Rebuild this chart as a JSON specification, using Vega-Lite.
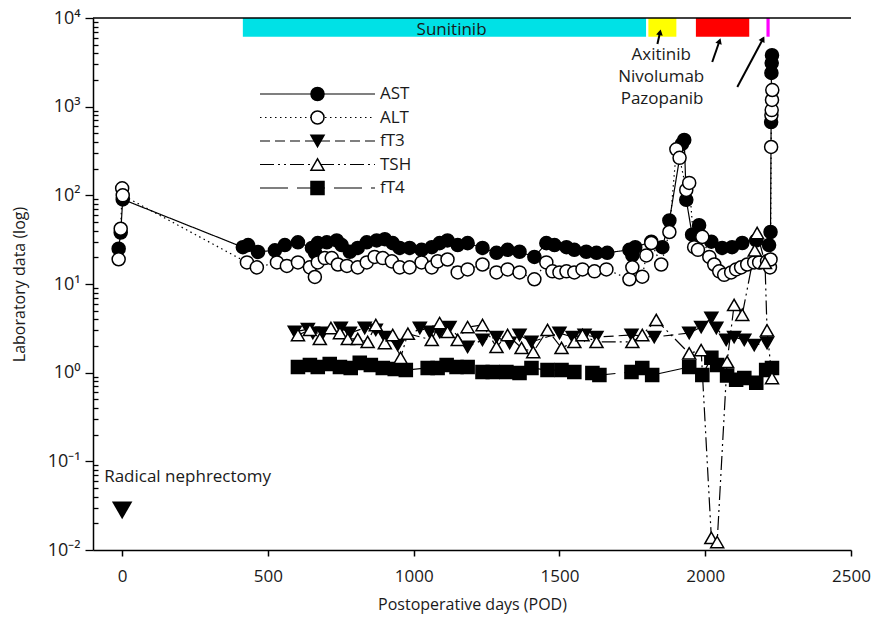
{
  "$schema": "https://vega.github.io/schema/vega-lite/v6.json",
  "width": 758,
  "height": 532,
  "autosize": "none",
  "padding": {"left": 93, "top": 18, "right": 21, "bottom": 72},
  "config": {
    "font": "Open Sans",
    "view": {"stroke": null},
    "axis": {"domainColor": "black", "domainWidth": 1.5, "tickColor": "black", "labelColor": "#1a1a1a", "titleColor": "#1a1a1a", "labelFontSize": 17, "titleFontSize": 16, "titleFontWeight": "normal", "grid": false},
    "legend": {"labelFont": "Open Sans", "labelColor": "#1a1a1a"}
  },
  "datasets": {
    "lab": [
      {"series":"AST","day":-12,"value":25},{"series":"AST","day":-5,"value":38},{"series":"AST","day":2,"value":90},{"series":"AST","day":414,"value":26},{"series":"AST","day":432,"value":27.5},{"series":"AST","day":466,"value":23},{"series":"AST","day":524,"value":24},{"series":"AST","day":558,"value":27.5},{"series":"AST","day":603,"value":29.5},{"series":"AST","day":651,"value":25.5},{"series":"AST","day":662,"value":22.5},{"series":"AST","day":671,"value":28.9},{"series":"AST","day":702,"value":29.5},{"series":"AST","day":736,"value":31},{"series":"AST","day":753,"value":27.5},{"series":"AST","day":781,"value":23.1},{"series":"AST","day":808,"value":25.5},{"series":"AST","day":839,"value":29.5},{"series":"AST","day":873,"value":31},{"series":"AST","day":901,"value":32},{"series":"AST","day":928,"value":28.9},{"series":"AST","day":952,"value":25.5},{"series":"AST","day":986,"value":25.5},{"series":"AST","day":1027,"value":24.3},{"series":"AST","day":1062,"value":26},{"series":"AST","day":1089,"value":28.9},{"series":"AST","day":1116,"value":31},{"series":"AST","day":1151,"value":27.5},{"series":"AST","day":1185,"value":28.9},{"series":"AST","day":1236,"value":25.5},{"series":"AST","day":1284,"value":22.5},{"series":"AST","day":1322,"value":24.3},{"series":"AST","day":1363,"value":23.1},{"series":"AST","day":1414,"value":20.2},{"series":"AST","day":1455,"value":28.9},{"series":"AST","day":1483,"value":27.5},{"series":"AST","day":1524,"value":26},{"series":"AST","day":1551,"value":24.3},{"series":"AST","day":1592,"value":23.1},{"series":"AST","day":1627,"value":22.5},{"series":"AST","day":1664,"value":22.5},{"series":"AST","day":1740,"value":24.3},{"series":"AST","day":1750,"value":21},{"series":"AST","day":1760,"value":26},{"series":"AST","day":1815,"value":30},{"series":"AST","day":1853,"value":26},{"series":"AST","day":1877,"value":52},{"series":"AST","day":1920,"value":380},{"series":"AST","day":1928,"value":421},{"series":"AST","day":1935,"value":89},{"series":"AST","day":1955,"value":36},{"series":"AST","day":1979,"value":46},{"series":"AST","day":2021,"value":30},{"series":"AST","day":2058,"value":25.5},{"series":"AST","day":2092,"value":26},{"series":"AST","day":2127,"value":29},{"series":"AST","day":2175,"value":31},{"series":"AST","day":2219,"value":27.5},{"series":"AST","day":2224,"value":38.6},{"series":"AST","day":2226,"value":670},{"series":"AST","day":2227,"value":2400},{"series":"AST","day":2228,"value":3100},{"series":"AST","day":2229,"value":3800},
      {"series":"ALT","day":-12,"value":19},{"series":"ALT","day":-5,"value":42},{"series":"ALT","day":0,"value":120},{"series":"ALT","day":2,"value":100},{"series":"ALT","day":428,"value":17.5},{"series":"ALT","day":462,"value":15.4},{"series":"ALT","day":531,"value":17.5},{"series":"ALT","day":565,"value":16},{"series":"ALT","day":603,"value":17.5},{"series":"ALT","day":644,"value":15.4},{"series":"ALT","day":661,"value":12},{"series":"ALT","day":671,"value":17.5},{"series":"ALT","day":695,"value":19.6},{"series":"ALT","day":719,"value":19.6},{"series":"ALT","day":740,"value":16.6},{"series":"ALT","day":771,"value":16},{"series":"ALT","day":808,"value":15.4},{"series":"ALT","day":839,"value":17.5},{"series":"ALT","day":866,"value":20.2},{"series":"ALT","day":894,"value":19.6},{"series":"ALT","day":925,"value":18},{"series":"ALT","day":952,"value":15.4},{"series":"ALT","day":986,"value":15.4},{"series":"ALT","day":1027,"value":17.5},{"series":"ALT","day":1062,"value":15.4},{"series":"ALT","day":1082,"value":18},{"series":"ALT","day":1116,"value":18.9},{"series":"ALT","day":1151,"value":13.5},{"series":"ALT","day":1185,"value":14.6},{"series":"ALT","day":1236,"value":16.6},{"series":"ALT","day":1284,"value":13.5},{"series":"ALT","day":1322,"value":14.6},{"series":"ALT","day":1363,"value":13.5},{"series":"ALT","day":1414,"value":11.3},{"series":"ALT","day":1455,"value":17.5},{"series":"ALT","day":1476,"value":13.9},{"series":"ALT","day":1500,"value":13.5},{"series":"ALT","day":1524,"value":13.9},{"series":"ALT","day":1551,"value":13.5},{"series":"ALT","day":1579,"value":14.6},{"series":"ALT","day":1620,"value":13.9},{"series":"ALT","day":1661,"value":14.6},{"series":"ALT","day":1740,"value":11.3},{"series":"ALT","day":1750,"value":15.4},{"series":"ALT","day":1784,"value":12.1},{"series":"ALT","day":1798,"value":21},{"series":"ALT","day":1815,"value":29},{"series":"ALT","day":1849,"value":16.6},{"series":"ALT","day":1877,"value":38.6},{"series":"ALT","day":1901,"value":330},{"series":"ALT","day":1912,"value":265},{"series":"ALT","day":1935,"value":115},{"series":"ALT","day":1945,"value":138},{"series":"ALT","day":1962,"value":26},{"series":"ALT","day":1975,"value":24.3},{"series":"ALT","day":1990,"value":34},{"series":"ALT","day":2014,"value":20.2},{"series":"ALT","day":2031,"value":16.6},{"series":"ALT","day":2048,"value":13.9},{"series":"ALT","day":2065,"value":12.7},{"series":"ALT","day":2089,"value":13.5},{"series":"ALT","day":2106,"value":14.6},{"series":"ALT","day":2123,"value":15.4},{"series":"ALT","day":2144,"value":16.6},{"series":"ALT","day":2168,"value":17.5},{"series":"ALT","day":2185,"value":17.5},{"series":"ALT","day":2212,"value":18},{"series":"ALT","day":2222,"value":15.4},{"series":"ALT","day":2224,"value":18.9},{"series":"ALT","day":2226,"value":351},{"series":"ALT","day":2227,"value":805},{"series":"ALT","day":2228,"value":916},{"series":"ALT","day":2229,"value":1190},{"series":"ALT","day":2230,"value":1540},
      {"series":"fT3","day":592,"value":2.88},{"series":"fT3","day":637,"value":3.1},{"series":"fT3","day":654,"value":2.8},{"series":"fT3","day":688,"value":2.8},{"series":"fT3","day":750,"value":3.19},{"series":"fT3","day":781,"value":2.8},{"series":"fT3","day":832,"value":3.19},{"series":"fT3","day":870,"value":3.03},{"series":"fT3","day":901,"value":2.52},{"series":"fT3","day":945,"value":2.05},{"series":"fT3","day":1021,"value":3.19},{"series":"fT3","day":1055,"value":2.88},{"series":"fT3","day":1089,"value":2.88},{"series":"fT3","day":1123,"value":3.27},{"series":"fT3","day":1185,"value":1.95},{"series":"fT3","day":1236,"value":2.34},{"series":"fT3","day":1284,"value":2.52},{"series":"fT3","day":1329,"value":2.16},{"series":"fT3","day":1363,"value":2.66},{"series":"fT3","day":1404,"value":2.22},{"series":"fT3","day":1500,"value":2.8},{"series":"fT3","day":1545,"value":2.52},{"series":"fT3","day":1586,"value":2.66},{"series":"fT3","day":1627,"value":2.52},{"series":"fT3","day":1747,"value":2.66},{"series":"fT3","day":1825,"value":2.52},{"series":"fT3","day":1945,"value":2.8},{"series":"fT3","day":1986,"value":3.27},{"series":"fT3","day":2021,"value":4.14},{"series":"fT3","day":2038,"value":3.19},{"series":"fT3","day":2072,"value":2.34},{"series":"fT3","day":2099,"value":2.52},{"series":"fT3","day":2134,"value":2.34},{"series":"fT3","day":2168,"value":2.05},{"series":"fT3","day":2212,"value":2.16},
      {"series":"fT4","day":603,"value":1.16},{"series":"fT4","day":644,"value":1.22},{"series":"fT4","day":671,"value":1.16},{"series":"fT4","day":712,"value":1.25},{"series":"fT4","day":747,"value":1.16},{"series":"fT4","day":784,"value":1.13},{"series":"fT4","day":815,"value":1.29},{"series":"fT4","day":853,"value":1.22},{"series":"fT4","day":894,"value":1.13},{"series":"fT4","day":935,"value":1.1},{"series":"fT4","day":973,"value":1.07},{"series":"fT4","day":1048,"value":1.13},{"series":"fT4","day":1082,"value":1.13},{"series":"fT4","day":1113,"value":1.22},{"series":"fT4","day":1147,"value":1.16},{"series":"fT4","day":1185,"value":1.16},{"series":"fT4","day":1236,"value":1.02},{"series":"fT4","day":1271,"value":1.02},{"series":"fT4","day":1318,"value":1.02},{"series":"fT4","day":1363,"value":0.99},{"series":"fT4","day":1404,"value":1.13},{"series":"fT4","day":1459,"value":1.07},{"series":"fT4","day":1507,"value":1.07},{"series":"fT4","day":1551,"value":1.02},{"series":"fT4","day":1613,"value":0.99},{"series":"fT4","day":1637,"value":0.94},{"series":"fT4","day":1747,"value":1.02},{"series":"fT4","day":1784,"value":1.13},{"series":"fT4","day":1818,"value":0.94},{"series":"fT4","day":1945,"value":1.16},{"series":"fT4","day":1990,"value":0.94},{"series":"fT4","day":2021,"value":1.47},{"series":"fT4","day":2041,"value":1.22},{"series":"fT4","day":2075,"value":0.93},{"series":"fT4","day":2106,"value":0.83},{"series":"fT4","day":2134,"value":0.87},{"series":"fT4","day":2175,"value":0.77},{"series":"fT4","day":2209,"value":1.07},{"series":"fT4","day":2229,"value":1.13},
      {"series":"TSH","day":603,"value":2.66},{"series":"TSH","day":644,"value":3.03},{"series":"TSH","day":678,"value":2.4},{"series":"TSH","day":716,"value":3.19},{"series":"TSH","day":747,"value":2.8},{"series":"TSH","day":774,"value":2.4},{"series":"TSH","day":808,"value":2.4},{"series":"TSH","day":842,"value":2.22},{"series":"TSH","day":870,"value":3.45},{"series":"TSH","day":901,"value":2.16},{"series":"TSH","day":928,"value":2.66},{"series":"TSH","day":955,"value":1.47},{"series":"TSH","day":980,"value":2.75},{"series":"TSH","day":1062,"value":2.34},{"series":"TSH","day":1089,"value":3.63},{"series":"TSH","day":1116,"value":2.88},{"series":"TSH","day":1151,"value":2.34},{"series":"TSH","day":1185,"value":3.27},{"series":"TSH","day":1236,"value":3.45},{"series":"TSH","day":1284,"value":1.95},{"series":"TSH","day":1322,"value":2.66},{"series":"TSH","day":1370,"value":1.9},{"series":"TSH","day":1410,"value":1.71},{"series":"TSH","day":1459,"value":3.03},{"series":"TSH","day":1507,"value":1.9},{"series":"TSH","day":1551,"value":2.22},{"series":"TSH","day":1579,"value":2.66},{"series":"TSH","day":1627,"value":2.22},{"series":"TSH","day":1750,"value":2.22},{"series":"TSH","day":1784,"value":2.66},{"series":"TSH","day":1832,"value":3.93},{"series":"TSH","day":1945,"value":1.65},{"series":"TSH","day":1986,"value":1.8},{"series":"TSH","day":2021,"value":0.0137},{"series":"TSH","day":2041,"value":0.0123},{"series":"TSH","day":2075,"value":1.32},{"series":"TSH","day":2099,"value":5.8},{"series":"TSH","day":2127,"value":4.5},{"series":"TSH","day":2170,"value":24},{"series":"TSH","day":2178,"value":37.6},{"series":"TSH","day":2205,"value":17.3},{"series":"TSH","day":2212,"value":3.0},{"series":"TSH","day":2229,"value":0.87}
    ],
    "drugs": [
      {"drug":"Sunitinib","start":414,"end":1797},
      {"drug":"Axitinib","start":1805,"end":1901},
      {"drug":"Nivolumab","start":1968,"end":2151},
      {"drug":"Pazopanib","start":2210,"end":2221}
    ],
    "drugLabels": [
      {"drug":"Sunitinib","day":1130,"value":7330},
      {"drug":"Axitinib","day":1849,"value":3830},
      {"drug":"Nivolumab","day":1849,"value":2160},
      {"drug":"Pazopanib","day":1852,"value":1220}
    ],
    "arrows": [
      {"drug":"Axitinib","day":1836,"value":5090,"tipDay":1845,"tipValue":6900,"heading":12},
      {"drug":"Nivolumab","day":2024,"value":3190,"tipDay":2049,"tipValue":5500,"heading":19},
      {"drug":"Pazopanib","day":2110,"value":1667,"tipDay":2198,"tipValue":5800,"heading":28}
    ],
    "events": [{"event":"Radical nephrectomy","day":0,"value":0.028}],
    "frame": [{"edge":"top","value":10000}]
  },
  "layer": [
    {
      "data": {"name": "drugs"},
      "mark": {"type": "rect"},
      "encoding": {
        "x": {"field": "start", "type": "quantitative", "scale": {"domain": [-100, 2500], "nice": false, "zero": false},
          "axis": {"values": [0, 500, 1000, 1500, 2000, 2500], "format": "d", "tickSize": 6, "tickWidth": 1.5, "labelPadding": 12, "title": "Postoperative days (POD)", "titlePadding": 12, "labelFlush": false}},
        "x2": {"field": "end"},
        "y": {"datum": 6150, "type": "quantitative", "scale": {"type": "log", "domain": [0.01, 10000], "nice": false},
          "axis": {
            "title": "Laboratory data (log)",
            "titlePadding": 20,
            "labelPadding": 5,
            "labelFontSize": 18,
            "values": [0.01,0.02,0.03,0.04,0.05,0.06,0.07,0.08,0.09,0.1,0.2,0.3,0.4,0.5,0.6,0.7,0.8,0.9,1,2,3,4,5,6,7,8,9,10,20,30,40,50,60,70,80,90,100,200,300,400,500,600,700,800,900,1000,2000,3000,4000,5000,6000,7000,8000,9000,10000],
            "labelExpr": "abs(log(datum.value)/LN10 - round(log(datum.value)/LN10)) < 0.01 ? '10' + ['⁻²','⁻¹','⁰','¹','²','³','⁴'][round(log(datum.value)/LN10)+2] : ''",
            "tickSize": {"condition": {"test": "abs(log(datum.value)/LN10 - round(log(datum.value)/LN10)) < 0.01", "value": 8}, "value": -5},
            "tickWidth": 1.3
          }},
        "y2": {"datum": 10000},
        "color": {"field": "drug", "type": "nominal", "scale": {"domain": ["Sunitinib","Axitinib","Nivolumab","Pazopanib"], "range": ["#00e1e6","#ffff00","#ff0000","#ff00ff"]}, "legend": null}
      }
    },
    {
      "data": {"name": "frame"},
      "mark": {"type": "rule", "color": "black", "strokeWidth": 1.5},
      "encoding": {"y": {"field": "value", "type": "quantitative"}}
    },
    {
      "data": {"name": "drugLabels"},
      "mark": {"type": "text", "fontSize": 17, "color": "#1a1a1a", "align": "center", "baseline": "middle"},
      "encoding": {
        "x": {"field": "day", "type": "quantitative"},
        "y": {"field": "value", "type": "quantitative"},
        "text": {"field": "drug"}
      }
    },
    {
      "data": {"name": "arrows"},
      "mark": {"type": "rule", "color": "black", "strokeWidth": 2},
      "encoding": {
        "x": {"field": "day", "type": "quantitative"},
        "y": {"field": "value", "type": "quantitative"},
        "x2": {"field": "tipDay"},
        "y2": {"field": "tipValue"}
      }
    },
    {
      "data": {"name": "arrows"},
      "mark": {"type": "point", "shape": "triangle-up", "filled": true, "color": "black", "size": 45, "opacity": 1},
      "encoding": {
        "x": {"field": "tipDay", "type": "quantitative"},
        "y": {"field": "tipValue", "type": "quantitative"},
        "angle": {"field": "heading", "type": "quantitative", "scale": null}
      }
    },
    {
      "data": {"name": "lab"},
      "mark": {"type": "line", "color": "black", "strokeWidth": 1.2},
      "encoding": {
        "x": {"field": "day", "type": "quantitative"},
        "y": {"field": "value", "type": "quantitative"},
        "strokeDash": {"field": "series", "type": "nominal", "sort": ["AST","ALT","fT3","TSH","fT4"],
          "scale": {"range": [[1,0],[1.5,3.5],[10,5],[14,4,2,4,2,4],[28,9]]},
          "legend": {"orient": "none", "legendX": 166, "legendY": 66, "title": null, "symbolType": "stroke", "symbolSize": 13225, "symbolStrokeWidth": 1.2, "symbolStrokeColor": "black", "clipHeight": 20, "rowPadding": 3.5, "labelFontSize": 17, "labelOffset": 4, "padding": 0, "zindex": 0}}
      }
    },
    {
      "data": {"name": "lab"},
      "mark": {"type": "point", "filled": false, "strokeWidth": 1.5, "size": 170, "opacity": 1},
      "encoding": {
        "x": {"field": "day", "type": "quantitative"},
        "y": {"field": "value", "type": "quantitative"},
        "shape": {"field": "series", "type": "nominal", "scale": {"domain": ["AST","ALT","fT3","TSH","fT4"], "range": ["circle","circle","triangle-down","triangle-up","square"]},
          "legend": {"orient": "none", "legendX": 216, "legendY": 66, "title": null, "symbolSize": 170, "symbolStrokeWidth": 1.5, "clipHeight": 20, "rowPadding": 3.5, "labelFontSize": 17, "labelOffset": 4, "labelOpacity": 0, "padding": 0, "zindex": 1}},
        "fill": {"field": "series", "type": "nominal", "scale": {"domain": ["AST","ALT","fT3","TSH","fT4"], "range": ["black","white","black","white","black"]},
          "legend": {"orient": "none", "legendX": 216, "legendY": 66, "title": null, "symbolSize": 170, "symbolStrokeWidth": 1.5, "clipHeight": 20, "rowPadding": 3.5, "labelFontSize": 17, "labelOffset": 4, "labelOpacity": 0, "padding": 0, "zindex": 1}},
        "stroke": {"field": "series", "type": "nominal", "scale": {"domain": ["AST","ALT","fT3","TSH","fT4"], "range": ["black","black","black","black","black"]},
          "legend": {"orient": "none", "legendX": 216, "legendY": 66, "title": null, "symbolSize": 170, "symbolStrokeWidth": 1.5, "clipHeight": 20, "rowPadding": 3.5, "labelFontSize": 17, "labelOffset": 4, "labelOpacity": 0, "padding": 0, "zindex": 1}}
      }
    },
    {
      "data": {"name": "events"},
      "mark": {"type": "point", "shape": "triangle-down", "filled": true, "color": "black", "size": 420, "opacity": 1},
      "encoding": {
        "x": {"field": "day", "type": "quantitative"},
        "y": {"field": "value", "type": "quantitative"}
      }
    },
    {
      "data": {"name": "events"},
      "mark": {"type": "text", "fontSize": 17, "color": "#1a1a1a", "align": "left", "baseline": "middle", "dx": -18, "dy": -33},
      "encoding": {
        "x": {"field": "day", "type": "quantitative"},
        "y": {"field": "value", "type": "quantitative"},
        "text": {"field": "event"}
      }
    }
  ]
}
